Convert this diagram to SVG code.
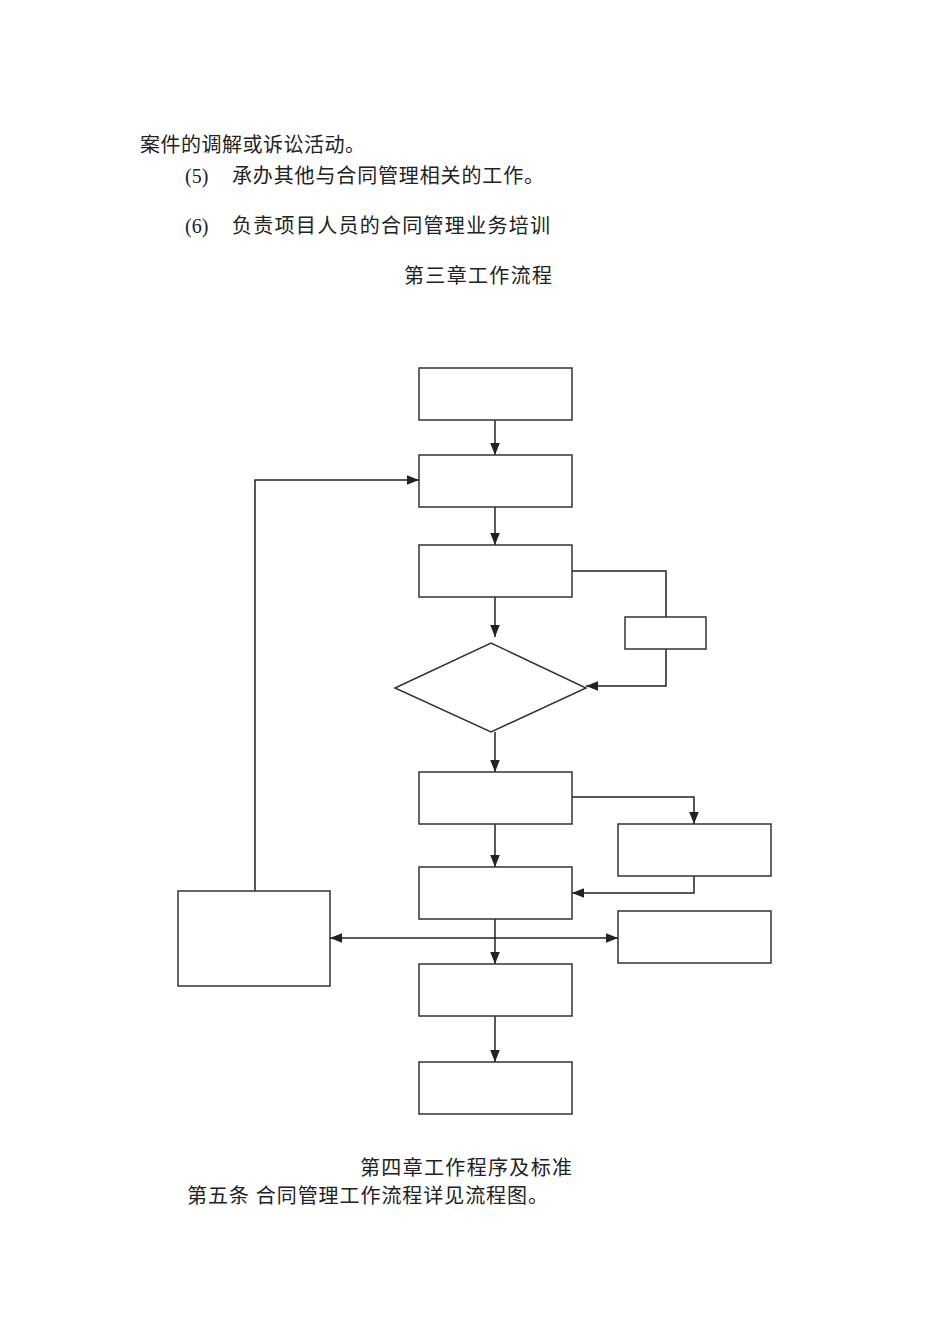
<svg xmlns="http://www.w3.org/2000/svg" width="950" height="1344" viewBox="0 0 950 1344">
<style>
text{font-family:"Liberation Serif","Noto Sans CJK SC",serif;font-size:20px;fill:#222}
.b{fill:#fff;stroke:#333;stroke-width:1.5}
.c{fill:none;stroke:#222;stroke-width:1.5}
</style>
<defs><marker id="a" viewBox="0 0 10 10" refX="10" refY="5" markerWidth="8" markerHeight="8" orient="auto-start-reverse"><path d="M0,1L10,5L0,9z" fill="#222"/></marker></defs>
<rect width="950" height="1344" fill="#fff"/>
<text x="140" y="152" textLength="225">案件的调解或诉讼活动。</text>
<text x="185" y="183">(5)</text><text x="232" y="183" textLength="312">承办其他与合同管理相关的工作。</text>
<text x="185" y="233">(6)</text><text x="232" y="233" textLength="318">负责项目人员的合同管理业务培训</text>
<text x="404" y="283" textLength="148">第三章工作流程</text>
<text x="360" y="1175" textLength="212">第四章工作程序及标准</text>
<text x="187" y="1203" textLength="361">第五条  合同管理工作流程详见流程图。</text>
<g id="connectors">
<path class="c" d="M495,420V455" marker-end="url(#a)"/>
<path class="c" d="M495,507V545" marker-end="url(#a)"/>
<path class="c" d="M495,597V637" marker-end="url(#a)"/>
<path class="c" d="M572,571H666V686H586" marker-end="url(#a)"/>
<path class="c" d="M495,732V772" marker-end="url(#a)"/>
<path class="c" d="M572,797H694V824" marker-end="url(#a)"/>
<path class="c" d="M495,824V867" marker-end="url(#a)"/>
<path class="c" d="M694,876V893H572" marker-end="url(#a)"/>
<path class="c" d="M330,938H618" marker-start="url(#a)" marker-end="url(#a)"/>
<path class="c" d="M495,919V964" marker-end="url(#a)"/>
<path class="c" d="M495,1016V1062" marker-end="url(#a)"/>
<path class="c" d="M255,891V480H419" marker-end="url(#a)"/>
</g>
<g id="n1"><rect class="b" x="419" y="368" width="153" height="52"/></g>
<g id="n2"><rect class="b" x="419" y="455" width="153" height="52"/></g>
<g id="n3"><rect class="b" x="419" y="545" width="153" height="52"/></g>
<g id="n4"><rect class="b" x="625" y="617" width="81" height="32"/></g>
<g id="n5"><path class="b" d="M395,688L491,643L586,688L491,732Z"/></g>
<g id="n6"><rect class="b" x="419" y="772" width="153" height="52"/></g>
<g id="n7"><rect class="b" x="618" y="824" width="153" height="52"/></g>
<g id="n8"><rect class="b" x="419" y="867" width="153" height="52"/></g>
<g id="n9"><rect class="b" x="618" y="911" width="153" height="52"/></g>
<g id="n10"><rect class="b" x="178" y="891" width="152" height="95"/></g>
<g id="n11"><rect class="b" x="419" y="964" width="153" height="52"/></g>
<g id="n12"><rect class="b" x="419" y="1062" width="153" height="52"/></g>
</svg>
